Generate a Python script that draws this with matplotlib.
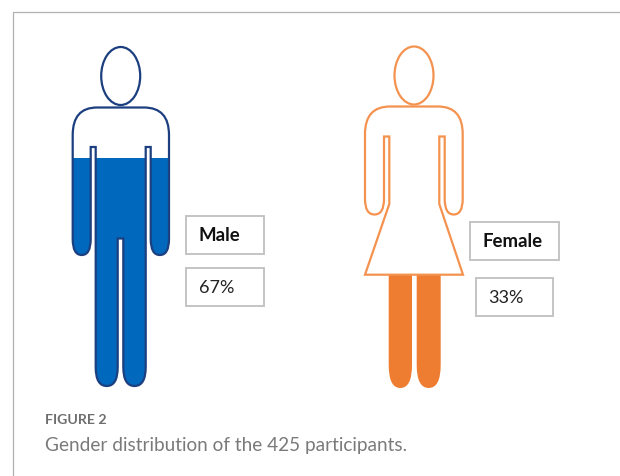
import matplotlib
matplotlib.use('Agg')
import matplotlib.pyplot as plt
from matplotlib.path import Path
from matplotlib.patches import PathPatch, Ellipse, Rectangle

genders = ['Male', 'Female']
shares = [67, 33]
share_labels = ['67%', '33%']
caption_head = 'FIGURE 2'
caption_text = 'Gender distribution of the 425 participants.'

plt.rcParams['font.family'] = ['Lato', 'DejaVu Sans']

M, L, C = Path.MOVETO, Path.LINETO, Path.CURVE3


def make_path(steps):
    verts, codes = [], []
    for s in steps:
        if len(s) == 2:
            verts.append(s)
            codes.append(L)
        else:
            # (ctrl x, ctrl y, end x, end y)
            verts += [(s[0], s[1]), (s[2], s[3])]
            codes += [C, C]
    codes[0] = M
    verts.append(verts[0])
    codes.append(Path.CLOSEPOLY)
    return Path(verts, codes)


def round_end(x0, x1, y0, y1):
    # rounded end of an arm or leg, going left to right
    mid = (x0 + x1) / 2
    return [(x0, y0), (x0, y1, mid, y1), (x1, y1, x1, y0)]


fig = plt.figure(figsize=(6.2, 4.77), dpi=100)
ax = fig.add_axes([0, 0, 1, 1])
ax.set_xlim(0, 620)
ax.set_ylim(477, 0)
ax.axis('off')

# page frame
ax.plot([620, 13, 13], [13, 13, 477], color='#b0b0b0', lw=0.9)

# male figure
male_steps = [(120.5, 108.5), (97, 108.5), (72.7, 108.5, 72.7, 136)]
male_steps += round_end(72.7, 90.7, 240, 256)
male_steps += [(90.7, 148), (95.7, 148)]
male_steps += round_end(95.7, 117.7, 368, 387)
male_steps += [(117.7, 239.5), (123.3, 239.5)]
male_steps += round_end(123.3, 145.7, 368, 387)
male_steps += [(145.7, 148), (150.7, 148)]
male_steps += round_end(150.7, 169, 240, 256)
male_steps += [(169, 136), (169, 108.5, 144, 108.5)]
male_path = make_path(male_steps)

male_top, male_bottom = 47, 387
male_fill = male_bottom - shares[0] / 100 * (male_bottom - male_top)
r = Rectangle((60, male_fill), 125, male_bottom - male_fill, fc='#0069bd', ec='none')
ax.add_patch(r)
r.set_clip_path(PathPatch(male_path, transform=ax.transData))
ax.add_patch(PathPatch(male_path, fc='none', ec='#1c3f80', lw=1.6))
ax.add_patch(Ellipse((120.7, 77), 39, 58, fc='white', ec='#1c3f80', lw=1.6))

# female figure
female_steps = [(414, 107.5), (390, 107.5), (365, 107.5, 365, 135)]
female_steps += round_end(365, 384, 200, 215.5)
female_steps += [(384, 137.5), (389.3, 137.5), (389.3, 205), (365, 275.7), (463, 275.7),
                 (439.3, 205), (439.3, 137.5), (444.7, 137.5)]
female_steps += round_end(444.7, 462.7, 200, 215.5)
female_steps += [(462.7, 135), (462.7, 107.5, 438, 107.5)]
female_path = make_path(female_steps)

leg_paths = Path.make_compound_path(
    make_path([(388.7, 270)] + round_end(388.7, 412, 366, 389) + [(412, 270)]),
    make_path([(416.7, 270)] + round_end(416.7, 440.7, 366, 389) + [(440.7, 270)]),
)

female_top, female_bottom = 47, 389
female_fill = female_bottom - shares[1] / 100 * (female_bottom - female_top)
r2 = Rectangle((380, female_fill), 70, female_bottom - female_fill, fc='#ee7d31', ec='none')
ax.add_patch(r2)
r2.set_clip_path(PathPatch(leg_paths, transform=ax.transData))
ax.add_patch(PathPatch(female_path, fc='none', ec='#f4924f', lw=1.6))
ax.add_patch(Ellipse((414, 76.5), 39, 58, fc='white', ec='#f4924f', lw=1.6))

# label boxes
name_boxes = [(186, 216.5, 78, 38), (470, 222.5, 88.5, 38)]
value_boxes = [(186, 269, 78, 37.5), (475.7, 279, 77.5, 38)]
name_x = [199, 483]
value_x = [199, 488]

for i in range(len(genders)):
    for b in (name_boxes[i], value_boxes[i]):
        ax.add_patch(Rectangle(b[:2], b[2], b[3], fc='white', ec='#c4c4c4', lw=1.4))
    ax.text(name_x[i], name_boxes[i][1] + 19, genders[i], fontsize=13.4, fontweight='bold',
            color='#111111', va='center', ha='left')
    ax.text(value_x[i], value_boxes[i][1] + 19, share_labels[i], fontsize=13,
            color='#222222', va='center', ha='left')

# caption
ax.text(45, 420, caption_head, fontsize=10.2, color='#6e6e6e', fontweight='bold', va='center')
ax.text(45, 446, caption_text, fontsize=13.7, color='#7a7a7a', va='center')

fig.savefig('out.png', dpi=100)
